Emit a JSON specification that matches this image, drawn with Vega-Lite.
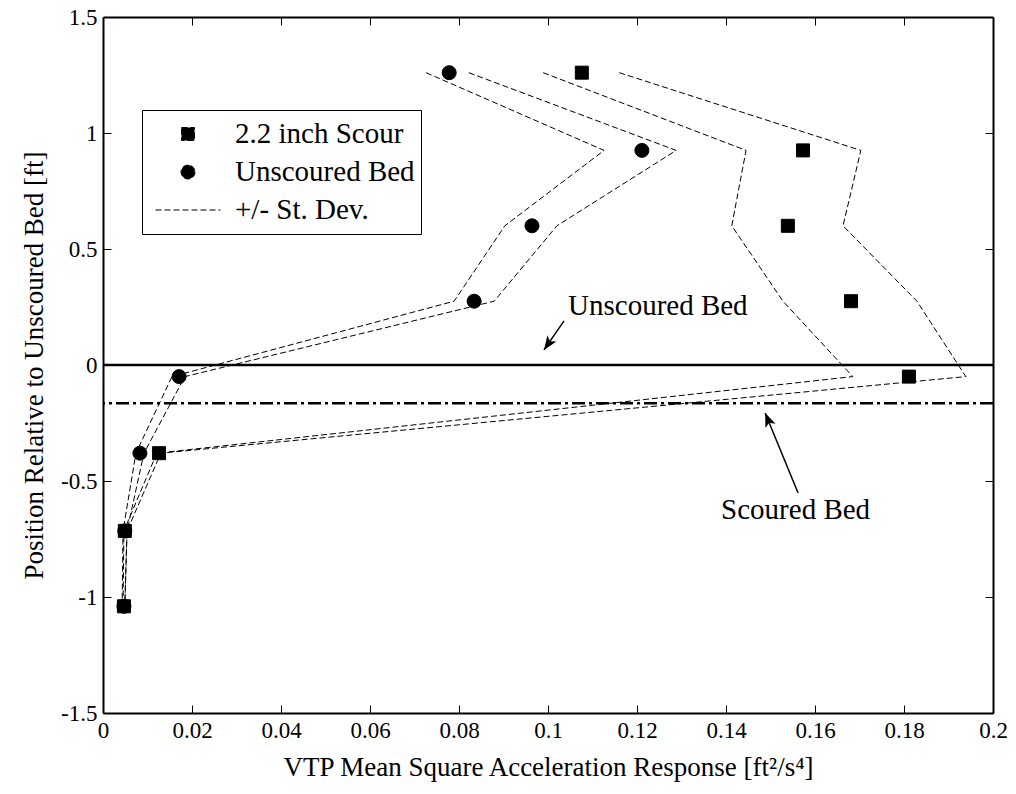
{
  "$schema": "https://vega.github.io/schema/vega-lite/v6.json",
  "width": 890,
  "height": 696,
  "autosize": "none",
  "padding": {"left": 103, "top": 17, "right": 23, "bottom": 81},
  "background": "white",
  "config": {
    "view": {"stroke": null},
    "font": "Liberation Serif",
    "axis": {
      "domainColor": "black",
      "domainWidth": 2,
      "tickColor": "black",
      "tickWidth": 1,
      "tickSize": -8,
      "grid": false,
      "labelFont": "Liberation Serif",
      "labelFontSize": 23,
      "labelColor": "black",
      "titleFont": "Liberation Serif",
      "titleFontSize": 27,
      "titleFontWeight": "normal",
      "titleColor": "black"
    }
  },
  "datasets": {
    "bands": [
      {"band": "UL", "x": 0.0726, "y": 1.26}, {"band": "UL", "x": 0.1126, "y": 0.925}, {"band": "UL", "x": 0.0903, "y": 0.6}, {"band": "UL", "x": 0.0789, "y": 0.275},
      {"band": "UL", "x": 0.0155, "y": -0.05}, {"band": "UL", "x": 0.0074, "y": -0.38}, {"band": "UL", "x": 0.0045, "y": -0.715}, {"band": "UL", "x": 0.0043, "y": -1.04},
      {"band": "UH", "x": 0.0822, "y": 1.26}, {"band": "UH", "x": 0.1288, "y": 0.925}, {"band": "UH", "x": 0.102, "y": 0.6}, {"band": "UH", "x": 0.0879, "y": 0.275},
      {"band": "UH", "x": 0.0184, "y": -0.05}, {"band": "UH", "x": 0.0092, "y": -0.38}, {"band": "UH", "x": 0.0054, "y": -0.715}, {"band": "UH", "x": 0.0049, "y": -1.04},
      {"band": "SL", "x": 0.0989, "y": 1.26}, {"band": "SL", "x": 0.1445, "y": 0.925}, {"band": "SL", "x": 0.1413, "y": 0.6}, {"band": "SL", "x": 0.1528, "y": 0.275},
      {"band": "SL", "x": 0.1685, "y": -0.05}, {"band": "SL", "x": 0.0121, "y": -0.38}, {"band": "SL", "x": 0.0047, "y": -0.715}, {"band": "SL", "x": 0.0045, "y": -1.04},
      {"band": "SH", "x": 0.116, "y": 1.26}, {"band": "SH", "x": 0.1703, "y": 0.925}, {"band": "SH", "x": 0.1663, "y": 0.6}, {"band": "SH", "x": 0.1829, "y": 0.275},
      {"band": "SH", "x": 0.1939, "y": -0.05}, {"band": "SH", "x": 0.013, "y": -0.38}, {"band": "SH", "x": 0.0054, "y": -0.715}, {"band": "SH", "x": 0.0049, "y": -1.04}
    ],
    "points": [
      {"series": "Unscoured Bed", "x": 0.0778, "y": 1.26}, {"series": "Unscoured Bed", "x": 0.1211, "y": 0.925}, {"series": "Unscoured Bed", "x": 0.0964, "y": 0.6}, {"series": "Unscoured Bed", "x": 0.0834, "y": 0.275},
      {"series": "Unscoured Bed", "x": 0.0171, "y": -0.05}, {"series": "Unscoured Bed", "x": 0.0083, "y": -0.38}, {"series": "Unscoured Bed", "x": 0.0049, "y": -0.715}, {"series": "Unscoured Bed", "x": 0.0047, "y": -1.04},
      {"series": "2.2 inch Scour", "x": 0.1076, "y": 1.26}, {"series": "2.2 inch Scour", "x": 0.1573, "y": 0.925}, {"series": "2.2 inch Scour", "x": 0.1539, "y": 0.6}, {"series": "2.2 inch Scour", "x": 0.1681, "y": 0.275},
      {"series": "2.2 inch Scour", "x": 0.1811, "y": -0.05}, {"series": "2.2 inch Scour", "x": 0.0126, "y": -0.38}, {"series": "2.2 inch Scour", "x": 0.0049, "y": -0.715}, {"series": "2.2 inch Scour", "x": 0.0047, "y": -1.04}
    ],
    "arrows": [
      {"name": "Unscoured Bed", "tx": 0.1036, "ty": 0.19, "hx": 0.0991, "hy": 0.065},
      {"name": "Scoured Bed", "tx": 0.1562, "ty": -0.552, "hx": 0.1488, "hy": -0.207}
    ],
    "labels": [
      {"text": "Unscoured Bed", "x": 0.1045, "y": 0.254},
      {"text": "Scoured Bed", "x": 0.1389, "y": -0.625}
    ]
  },
  "resolve": {"axis": {"x": "independent", "y": "independent"}},
  "layer": [
    {
      "data": {"name": "bands"},
      "mark": {"type": "line", "color": "black", "strokeWidth": 1, "strokeDash": [6, 3]},
      "encoding": {
        "x": {"field": "x", "type": "quantitative", "scale": {"domain": [0, 0.2], "nice": false, "zero": false},
          "axis": {"orient": "bottom", "title": "VTP Mean Square Acceleration Response [ft²/s⁴]", "values": [0, 0.02, 0.04, 0.06, 0.08, 0.1, 0.12, 0.14, 0.16, 0.18, 0.2],
            "labelExpr": "replace(format(datum.value, '~g'), '\u2212', '-')", "labelPadding": 14, "titlePadding": 12, "labelFlush": false,
            "labelFont": "Liberation Serif", "labelFontSize": 23, "titleFont": "Liberation Serif", "titleFontSize": 27, "titleFontWeight": "normal"}},
        "y": {"field": "y", "type": "quantitative", "scale": {"domain": [-1.5, 1.5], "nice": false, "zero": false},
          "axis": {"orient": "left", "title": "Position Relative to Unscoured Bed [ft]", "values": [-1.5, -1, -0.5, 0, 0.5, 1, 1.5],
            "labelExpr": "replace(format(datum.value, '~g'), '\u2212', '-')", "labelPadding": 14, "titlePadding": 12, "labelFlush": false,
            "labelFont": "Liberation Serif", "labelFontSize": 23, "titleFont": "Liberation Serif", "titleFontSize": 27, "titleFontWeight": "normal"}},
        "detail": {"field": "band", "type": "nominal"},
        "order": {"field": "y", "type": "quantitative", "sort": "descending"}
      }
    },
    {
      "data": {"values": [{"y": 0}]},
      "mark": {"type": "rule", "color": "black", "strokeWidth": 2.5},
      "encoding": {"y": {"field": "y", "type": "quantitative", "scale": {"domain": [-1.5, 1.5], "nice": false, "zero": false}, "axis": null}}
    },
    {
      "data": {"values": [{"y": -0.165}]},
      "mark": {"type": "rule", "color": "black", "strokeWidth": 2.5, "strokeDash": [13, 4, 3, 4]},
      "encoding": {"y": {"field": "y", "type": "quantitative", "scale": {"domain": [-1.5, 1.5], "nice": false, "zero": false}, "axis": null}}
    },
    {
      "data": {"name": "points"},
      "mark": {"type": "point", "filled": false, "fill": "black", "stroke": "black", "strokeWidth": 1, "opacity": 1, "fillOpacity": 1, "strokeOpacity": 1},
      "encoding": {
        "x": {"field": "x", "type": "quantitative", "scale": {"domain": [0, 0.2], "nice": false, "zero": false}, "axis": null},
        "y": {"field": "y", "type": "quantitative", "scale": {"domain": [-1.5, 1.5], "nice": false, "zero": false}, "axis": null},
        "shape": {"field": "series", "type": "nominal",
          "scale": {"domain": ["2.2 inch Scour", "Unscoured Bed", "+/- St. Dev."], "range": ["square", "circle", "M-1,0H1"]},
          "legend": {
            "title": null, "orient": "none", "legendX": 39, "legendY": 93,
            "padding": 6, "strokeColor": "black", "fillColor": "white",
            "labelFont": "Liberation Serif", "labelFontSize": 29, "labelColor": "black", "labelLimit": 600,
            "clipHeight": 36, "rowPadding": 2, "symbolOffset": 7, "labelOffset": 14,
            "symbolFillColor": "black", "symbolStrokeColor": "black", "symbolStrokeWidth": 1, "symbolDash": [6, 3], "symbolOpacity": 1,
            "encode": {
              "legend": {"update": {"strokeWidth": {"value": 2}}},
              "symbols": {"update": {
                "stroke": {"value": "black"},
                "strokeWidth": {"value": 1},
                "strokeDash": {"value": [6, 3]},
                "opacity": {"value": 1}
              }}
            }
          }},
        "size": {"field": "series", "type": "nominal",
          "scale": {"type": "ordinal", "domain": ["2.2 inch Scour", "Unscoured Bed", "+/- St. Dev."], "range": [169, 196, 4225]}}
      }
    },
    {
      "data": {"name": "labels"},
      "mark": {"type": "text", "align": "left", "baseline": "middle", "font": "Liberation Serif", "fontSize": 29, "color": "black"},
      "encoding": {
        "x": {"field": "x", "type": "quantitative", "scale": {"domain": [0, 0.2], "nice": false, "zero": false}, "axis": null},
        "y": {"field": "y", "type": "quantitative", "scale": {"domain": [-1.5, 1.5], "nice": false, "zero": false}, "axis": null},
        "text": {"field": "text"}
      }
    },
    {
      "data": {"name": "arrows"},
      "mark": {"type": "rule", "color": "black", "strokeWidth": 1.5},
      "encoding": {
        "x": {"field": "tx", "type": "quantitative", "scale": {"domain": [0, 0.2], "nice": false, "zero": false},
          "axis": {"orient": "top", "title": null, "labels": false, "values": [0, 0.02, 0.04, 0.06, 0.08, 0.1, 0.12, 0.14, 0.16, 0.18, 0.2]}},
        "y": {"field": "ty", "type": "quantitative", "scale": {"domain": [-1.5, 1.5], "nice": false, "zero": false},
          "axis": {"orient": "right", "title": null, "labels": false, "values": [-1.5, -1, -0.5, 0, 0.5, 1, 1.5]}},
        "x2": {"field": "hx"},
        "y2": {"field": "hy"}
      }
    },
    {
      "data": {"name": "arrows"},
      "transform": [{"filter": "datum.name === 'Unscoured Bed'"}],
      "mark": {"type": "point", "filled": true, "opacity": 1, "color": "black", "strokeWidth": 0, "size": 400, "angle": 214.6, "shape": "M0,0L-0.55,1.4L0,1.05L0.55,1.4Z"},
      "encoding": {
        "x": {"field": "hx", "type": "quantitative", "scale": {"domain": [0, 0.2], "nice": false, "zero": false}, "axis": null},
        "y": {"field": "hy", "type": "quantitative", "scale": {"domain": [-1.5, 1.5], "nice": false, "zero": false}, "axis": null}
      }
    },
    {
      "data": {"name": "arrows"},
      "transform": [{"filter": "datum.name === 'Scoured Bed'"}],
      "mark": {"type": "point", "filled": true, "opacity": 1, "color": "black", "strokeWidth": 0, "size": 400, "angle": 337.6, "shape": "M0,0L-0.55,1.4L0,1.05L0.55,1.4Z"},
      "encoding": {
        "x": {"field": "hx", "type": "quantitative", "scale": {"domain": [0, 0.2], "nice": false, "zero": false}, "axis": null},
        "y": {"field": "hy", "type": "quantitative", "scale": {"domain": [-1.5, 1.5], "nice": false, "zero": false}, "axis": null}
      }
    }
  ]
}
